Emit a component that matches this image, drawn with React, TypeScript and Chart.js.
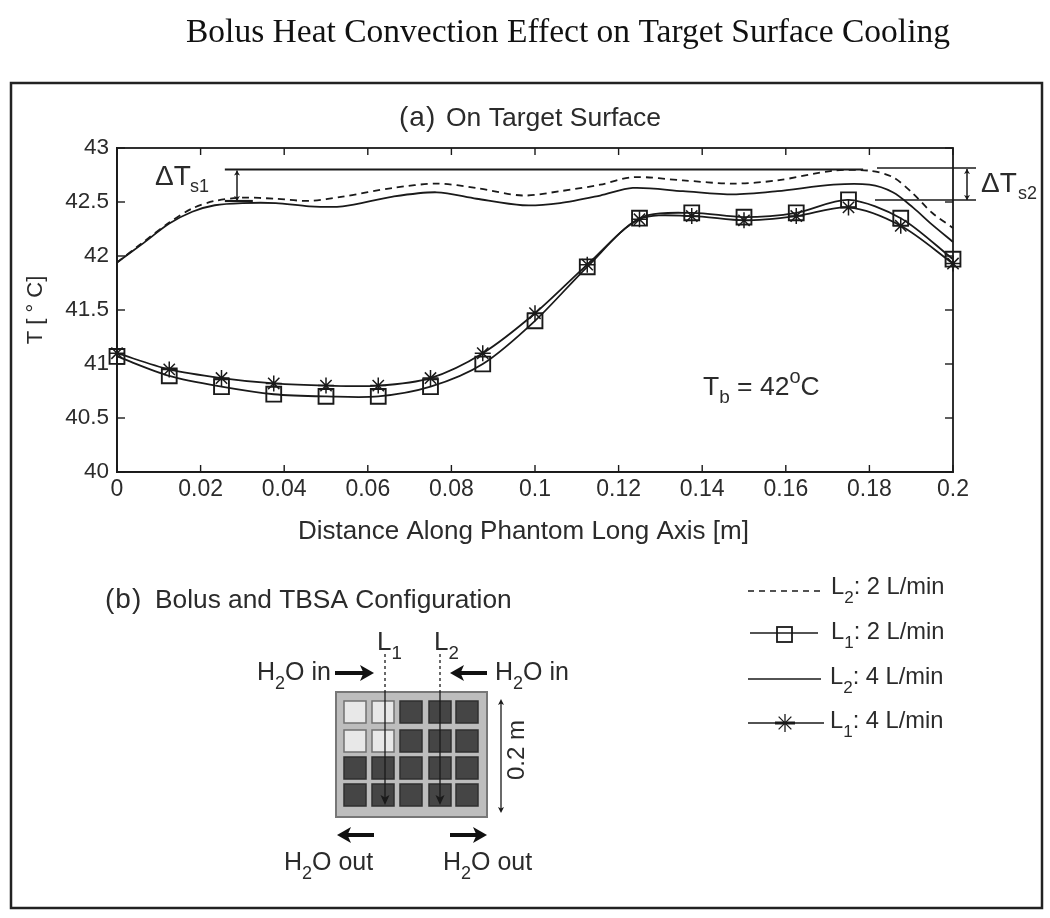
import React, { useEffect, useRef } from "react";
import { Chart, registerables } from "chart.js";

Chart.register(...registerables);

const l1Distances = [0, 0.0125, 0.025, 0.0375, 0.05, 0.0625, 0.075, 0.0875, 0.1, 0.1125, 0.125, 0.1375, 0.15, 0.1625, 0.175, 0.1875, 0.2];
const l1Flow2 = [41.07, 40.89, 40.79, 40.72, 40.7, 40.7, 40.79, 41.0, 41.4, 41.9, 42.35, 42.4, 42.36, 42.4, 42.52, 42.35, 41.97];
const l1Flow4 = [41.1, 40.95, 40.87, 40.82, 40.8, 40.8, 40.87, 41.1, 41.47, 41.92, 42.34, 42.37, 42.33, 42.37, 42.45, 42.28, 41.93];
const l2Distances = [0, 0.006, 0.0125, 0.018, 0.0234, 0.03, 0.038, 0.046, 0.054, 0.066, 0.0765, 0.086, 0.097, 0.106, 0.1156, 0.1234, 0.1354, 0.1474, 0.158, 0.1714, 0.18, 0.1856, 0.1904, 0.195, 0.2];
const l2Flow2 = [41.94, 42.12, 42.31, 42.44, 42.51, 42.54, 42.53, 42.51, 42.55, 42.63, 42.67, 42.63, 42.56, 42.6, 42.66, 42.73, 42.7, 42.67, 42.7, 42.79, 42.79, 42.73, 42.58, 42.4, 42.26];
const l2Flow4 = [41.94, 42.11, 42.3, 42.41, 42.47, 42.49, 42.49, 42.46, 42.46, 42.55, 42.59, 42.53, 42.47, 42.49, 42.56, 42.63, 42.6, 42.57, 42.6, 42.66, 42.66, 42.59, 42.45, 42.29, 42.13];
const refSpanX = [0.0258, 0.1785];
const refLevel = [42.8, 42.8];
const seriesNames = ["L2: 2 L/min", "L1: 2 L/min", "L2: 4 L/min", "L1: 4 L/min"];
const xTicks = [0, 0.02, 0.04, 0.06, 0.08, 0.1, 0.12, 0.14, 0.16, 0.18, 0.2];
const yTicks = [40, 40.5, 41, 41.5, 42, 42.5, 43];

const SANS = '"Liberation Sans", Arial, sans-serif';
const INK = "#1a1a1a";
const TEXT = "#2b2b2b";

function pair(xs: number[], ys: number[]) {
  return xs.map((x, i) => ({ x, y: ys[i] }));
}

function text(ctx: CanvasRenderingContext2D, s: string, x: number, y: number, size: number, family = SANS, color = TEXT) {
  ctx.font = `${size}px ${family}`;
  ctx.fillStyle = color;
  ctx.textAlign = "left";
  ctx.textBaseline = "alphabetic";
  ctx.fillText(s, x, y);
  return ctx.measureText(s).width;
}

function line(ctx: CanvasRenderingContext2D, x1: number, y1: number, x2: number, y2: number, w = 1.5, color = INK, dash: number[] = []) {
  ctx.save();
  ctx.strokeStyle = color;
  ctx.lineWidth = w;
  ctx.setLineDash(dash);
  ctx.beginPath();
  ctx.moveTo(x1, y1);
  ctx.lineTo(x2, y2);
  ctx.stroke();
  ctx.restore();
}

function head(ctx: CanvasRenderingContext2D, x: number, y: number, dx: number, dy: number, len: number, half: number, color = INK) {
  ctx.fillStyle = color;
  ctx.beginPath();
  ctx.moveTo(x, y);
  ctx.lineTo(x - dx * len - dy * half, y - dy * len - dx * half);
  ctx.lineTo(x - dx * len * 0.75, y - dy * len * 0.75);
  ctx.lineTo(x - dx * len + dy * half, y - dy * len + dx * half);
  ctx.closePath();
  ctx.fill();
}

function sub(ctx: CanvasRenderingContext2D, main: string, small: string, rest: string, x: number, y: number, size: number) {
  let cx = x;
  cx += text(ctx, main, cx, y, size);
  cx += text(ctx, small, cx, y + size * 0.36, size * 0.72);
  cx += text(ctx, rest, cx, y, size);
  return cx;
}

function star(ctx: CanvasRenderingContext2D, x: number, y: number, r: number) {
  for (let i = 0; i < 4; i++) {
    const a = (i * Math.PI) / 4;
    line(ctx, x - r * Math.cos(a), y - r * Math.sin(a), x + r * Math.cos(a), y + r * Math.sin(a), 1.3);
  }
}

const annotations = {
  id: "annotations",
  afterDraw(chart: any) {
    const { ctx, scales, chartArea: a } = chart;
    const sx = scales.x;
    const sy = scales.y;
    ctx.save();

    // Outer frame and titles
    ctx.strokeStyle = "#222";
    ctx.lineWidth = 2.5;
    ctx.strokeRect(11, 83, 1031, 825);
    text(ctx, "Bolus Heat Convection Effect on Target Surface Cooling", 186, 42, 33.5, '"Liberation Serif", serif', "#111");
    ctx.letterSpacing = "1px";
    text(ctx, "(a)", 399, 126, 28);
    ctx.letterSpacing = "0px";
    text(ctx, "On Target Surface", 446, 126, 26.5);
    text(ctx, "Distance Along Phantom Long Axis [m]", 298, 539, 26);

    // Plot box and ticks
    ctx.strokeStyle = INK;
    ctx.lineWidth = 1.8;
    ctx.strokeRect(a.left, a.top, a.right - a.left, a.bottom - a.top);
    xTicks.forEach((v) => {
      const p = sx.getPixelForValue(v);
      line(ctx, p, a.bottom, p, a.bottom - 7, 1.4);
      line(ctx, p, a.top, p, a.top + 7, 1.4);
    });
    yTicks.forEach((v) => {
      const p = sy.getPixelForValue(v);
      line(ctx, a.left, p, a.left + 8, p, 1.4);
      line(ctx, a.right, p, a.right - 8, p, 1.4);
    });

    // Delta T s1
    const xa = sx.getPixelForValue(0.0258);
    const ya = sy.getPixelForValue(42.8);
    const yb = sy.getPixelForValue(42.5);
    line(ctx, xa, yb - 1, xa + 28, yb - 1, 2.2);
    line(ctx, 237, ya + 1, 237, yb - 1, 1.5);
    head(ctx, 237, ya + 1, 0, -1, 5, 3);
    head(ctx, 237, yb - 1, 0, 1, 5, 3);
    text(ctx, "ΔT", 155, 185, 28);
    text(ctx, "s1", 190, 192, 18);

    // Delta T s2
    line(ctx, 877, 168, 976, 168, 1.6);
    line(ctx, 875, 200, 976, 200, 1.6);
    line(ctx, 967, 169, 967, 200, 1.5);
    head(ctx, 967, 169, 0, -1, 5, 3);
    head(ctx, 967, 200, 0, 1, 5, 3);
    text(ctx, "ΔT", 981, 192, 28);
    text(ctx, "s2", 1018, 199, 18);

    // Tb
    let cx = 703;
    cx += text(ctx, "T", cx, 395, 26.5);
    cx += text(ctx, "b", cx, 403, 19);
    cx += text(ctx, " = 42", cx, 395, 26.5);
    cx += text(ctx, "o", cx, 383, 20);
    text(ctx, "C", cx, 395, 26.5);

    // (b) heading
    ctx.letterSpacing = "1px";
    text(ctx, "(b)", 105, 608, 28);
    ctx.letterSpacing = "0px";
    text(ctx, "Bolus and TBSA Configuration", 155, 608, 26.3);

    // Diagram plate
    ctx.fillStyle = "#bdbdbd";
    ctx.fillRect(336, 692, 151, 125);
    ctx.strokeStyle = "#777";
    ctx.lineWidth = 2;
    ctx.strokeRect(336, 692, 151, 125);
    const cols = [344, 372, 400, 429, 456];
    const rows = [701, 730, 757, 784];
    rows.forEach((ry, r) =>
      cols.forEach((rx, c) => {
        const light = r < 2 && c < 2;
        ctx.fillStyle = light ? "#e8e8e8" : "#454545";
        ctx.fillRect(rx, ry, 22, 22);
        ctx.strokeStyle = light ? "#707070" : "#2f2f2f";
        ctx.lineWidth = 1.5;
        ctx.strokeRect(rx, ry, 22, 22);
      })
    );

    // Cut lines L1 and L2
    [385, 440].forEach((lx) => {
      line(ctx, lx, 654, lx, 693, 1.3, INK, [3, 3]);
      line(ctx, lx, 693, lx, 798, 1.3);
      head(ctx, lx, 805, 0, 1, 10, 4.5);
    });
    sub(ctx, "L", "1", "", 377, 650, 26);
    sub(ctx, "L", "2", "", 434, 650, 26);

    // Flow labels and arrows
    const flow = (x: number, y: number, word: string) => {
      const e = sub(ctx, "H", "2", "O", x, y, 25);
      text(ctx, " " + word, e, y, 25);
    };
    flow(257, 680, "in");
    flow(495, 680, "in");
    flow(284, 870, "out");
    flow(443, 870, "out");
    const arrow = (x1: number, x2: number, y: number) => {
      const d = x2 > x1 ? 1 : -1;
      line(ctx, x1, y, x2 - d * 10, y, 4, "#111");
      head(ctx, x2, y, d, 0, 14, 8, "#111");
    };
    arrow(335, 374, 673);
    arrow(487, 450, 673);
    arrow(374, 337, 835);
    arrow(450, 487, 835);

    // 0.2 m dimension
    line(ctx, 501, 702, 501, 810, 1.3);
    head(ctx, 501, 699, 0, -1, 6, 3);
    head(ctx, 501, 813, 0, 1, 6, 3);
    ctx.save();
    ctx.translate(524, 780);
    ctx.rotate(-Math.PI / 2);
    text(ctx, "0.2 m", 0, 0, 24);
    ctx.restore();

    // Legend
    line(ctx, 748, 591, 820, 591, 1.5, INK, [6, 5]);
    sub(ctx, "L", "2", ": 2 L/min", 831, 594, 23.7);
    line(ctx, 750, 633, 818, 633, 1.7);
    ctx.strokeStyle = INK;
    ctx.lineWidth = 1.8;
    ctx.strokeRect(777, 627, 15, 15);
    sub(ctx, "L", "1", ": 2 L/min", 831, 639, 23.7);
    line(ctx, 748, 679, 821, 679, 1.7);
    sub(ctx, "L", "2", ": 4 L/min", 830, 684, 23.7);
    line(ctx, 748, 723, 824, 723, 1.7);
    line(ctx, 775, 723, 795, 723, 3);
    star(ctx, 785, 723, 9);
    sub(ctx, "L", "1", ": 4 L/min", 830, 728, 23.7);

    ctx.restore();
  },
};

export default function App() {
  const ref = useRef<HTMLCanvasElement>(null);
  useEffect(() => {
    document.body.style.margin = "0";
    document.body.style.background = "#fff";
    const base = { borderColor: INK, borderWidth: 1.8, showLine: true, tension: 0.3, fill: false, clip: false };
    const chart = new Chart(ref.current!, {
      type: "scatter",
      data: {
        datasets: [
          { ...base, label: seriesNames[0], data: pair(l2Distances, l2Flow2), borderDash: [7, 5], pointRadius: 0 },
          { ...base, label: seriesNames[1], data: pair(l1Distances, l1Flow2), pointStyle: "rect", pointRadius: 10.5, pointBorderWidth: 1.9, pointBorderColor: INK, pointBackgroundColor: "transparent" },
          { ...base, label: seriesNames[2], data: pair(l2Distances, l2Flow4), pointRadius: 0 },
          { ...base, label: seriesNames[3], data: pair(l1Distances, l1Flow4), pointStyle: "star", pointRadius: 8, pointBorderWidth: 1.5, pointBorderColor: INK },
          { ...base, label: "Reference", data: pair(refSpanX, refLevel), pointRadius: 0, borderWidth: 2, tension: 0 },
        ],
      } as any,
      options: {
        responsive: false,
        animation: false,
        devicePixelRatio: 1,
        layout: { padding: { left: 23, top: 148, right: 97, bottom: 374 } },
        plugins: { legend: { display: false }, tooltip: { enabled: false }, title: { display: false } },
        scales: {
          x: {
            type: "linear",
            min: 0,
            max: 0.2,
            afterFit: (s: any) => { s.height = 72; },
            afterBuildTicks: (s: any) => { s.ticks = xTicks.map((value) => ({ value })); },
            grid: { display: false, drawTicks: false },
            border: { display: true, color: INK, width: 1.8 },
            ticks: { color: TEXT, font: { family: SANS, size: 23 }, padding: 4, maxRotation: 0, autoSkip: false, callback: (v: any) => String(+Number(v).toFixed(2)) },
          },
          y: {
            type: "linear",
            min: 40,
            max: 43,
            afterFit: (s: any) => { s.width = 94; },
            afterBuildTicks: (s: any) => { s.ticks = yTicks.map((value) => ({ value })); },
            grid: { display: false, drawTicks: false },
            border: { display: true, color: INK, width: 1.8 },
            ticks: { color: TEXT, font: { family: SANS, size: 22.5 }, padding: 8, autoSkip: false, callback: (v: any) => String(v) },
            title: { display: true, text: "T [ ° C]", color: TEXT, font: { family: SANS, size: 22 }, padding: 0 },
          },
        },
      },
      plugins: [annotations],
    } as any);
    return () => chart.destroy();
  }, []);
  return <canvas ref={ref} width={1050} height={918} style={{ display: "block", width: 1050, height: 918 }} />;
}
